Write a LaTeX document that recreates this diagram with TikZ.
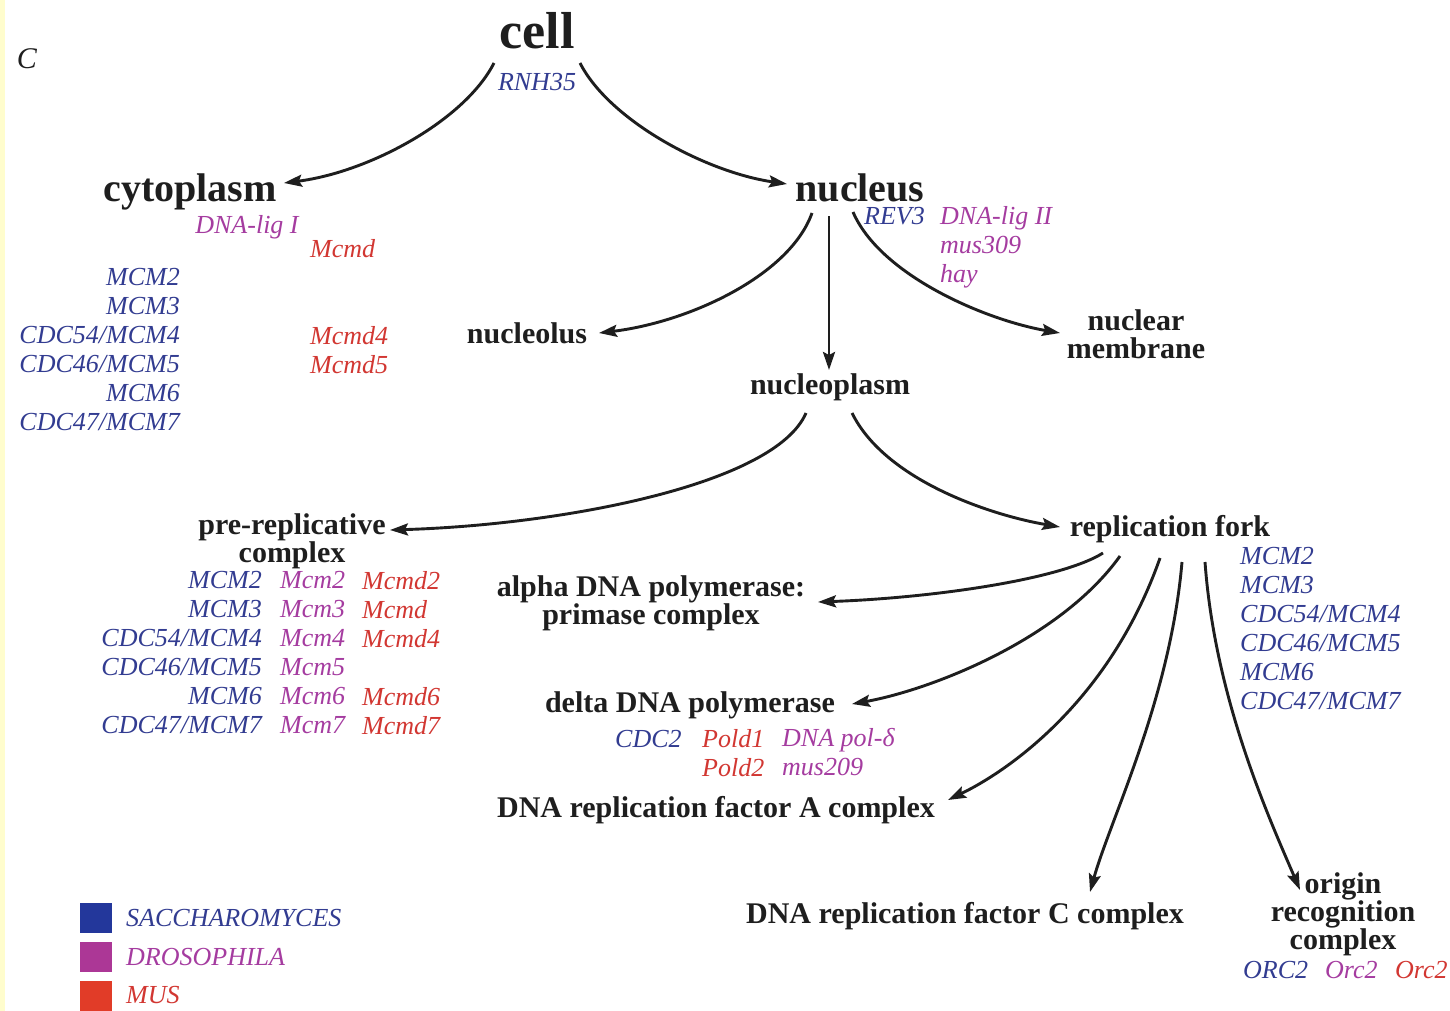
\documentclass[tikz,border=0pt]{standalone}
\usepackage{fontspec}
\setmainfont{Liberation Serif}
\usetikzlibrary{arrows.meta,calc}
\definecolor{ink}{RGB}{30,30,30}
\definecolor{sacc}{RGB}{50,60,145}
\definecolor{dros}{RGB}{165,60,160}
\definecolor{mus}{RGB}{210,55,50}
\definecolor{saccsq}{RGB}{35,55,155}
\definecolor{drossq}{RGB}{172,55,150}
\definecolor{mussq}{RGB}{225,60,40}
\definecolor{edge}{RGB}{255,253,205}
\begin{document}
\begin{tikzpicture}[x=1pt,y=-1pt,
  every node/.style={inner sep=0pt, text=ink},
  lvlzero/.style={font=\fontsize{52}{60}\selectfont\bfseries},
  lvlone/.style={font=\fontsize{40}{46}\selectfont\bfseries},
  lvltwo/.style={font=\fontsize{30}{28}\selectfont\bfseries, align=center},
  gene/.style={font=\fontsize{26}{29}\selectfont\itshape},
  yeast/.style={gene, text=sacc},
  fly/.style={gene, text=dros},
  mouse/.style={gene, text=mus},
  arr/.style={draw=ink, line width=2.9pt, -{Stealth[length=18pt,width=12pt,inset=3pt]}}
]
\fill[white] (0,0) rectangle (1450,1011);
\useasboundingbox (0,0) rectangle (1450,1011);
\fill[edge] (0,0) rectangle (5,1011);

% panel letter
\node[font=\fontsize{30}{32}\selectfont\itshape] (panel) at (27,59) {C};

% compartments
\node[lvlzero] (cell) at (537,31) {cell};
\node[lvlone] (cyto) at (190,192) {cytoplasm};
\node[lvlone] (nucl) at (860,188) {nucleus};
\node[lvltwo] (nucleolus) at (527,333) {nucleolus};
\node[lvltwo] (nplasm) at (830,387) {nucleoplasm};
\node[lvltwo] (memb) at (1136,334) {nuclear\\membrane};
\node[lvltwo] (prerep) at (292,541) {pre-replicative\\complex};
\node[lvltwo] (fork) at (1170,529) {replication fork};
\node[lvltwo] (alpha) at (651,603) {alpha DNA polymerase:\\primase complex};
\node[lvltwo] (delta) at (690,705) {delta DNA polymerase};
\node[lvltwo] (rfa) at (716,810) {DNA replication factor A complex};
\node[lvltwo] (rfc) at (965,916) {DNA replication factor C complex};
\node[lvltwo] (orc) at (1343,914) {origin\\recognition\\complex};

% gene annotations
\node[yeast] (rnh) at (537,82) {RNH35};

\node[fly] (ligI) at (247,227) {DNA-lig I};
\node[mouse, anchor=west] (cytmcmd) at (310,249) {Mcmd};
\node[yeast, anchor=north east, align=right] (cytyeast) at (180,268)
  {MCM2\\MCM3\\CDC54/MCM4\\CDC46/MCM5\\MCM6\\CDC47/MCM7};
\node[mouse, anchor=north west, align=left] (cytmouse) at (310,326) {Mcmd4\\Mcmd5};

\node[yeast, anchor=west] (rev) at (864,216) {REV3};
\node[fly, anchor=north west, align=left] (nucfly) at (940,206) {DNA-lig II\\mus309\\hay};

\node[yeast, anchor=north east, align=right] (pryeast) at (262,571)
  {MCM2\\MCM3\\CDC54/MCM4\\CDC46/MCM5\\MCM6\\CDC47/MCM7};
\node[fly, anchor=north west, align=left] (prfly) at (280,571)
  {Mcm2\\Mcm3\\Mcm4\\Mcm5\\Mcm6\\Mcm7};
\node[mouse, anchor=north west, align=left] (prmouse) at (362,571)
  {Mcmd2\\Mcmd\\Mcmd4\\\mbox{}\\Mcmd6\\Mcmd7};

\node[yeast, anchor=north west, align=left] (fkyeast) at (1240,547)
  {MCM2\\MCM3\\CDC54/MCM4\\CDC46/MCM5\\MCM6\\CDC47/MCM7};

\node[yeast, anchor=west] (cdc) at (615,739) {CDC2};
\node[mouse, anchor=north west, align=left] (pold) at (702,729) {Pold1\\Pold2};
\node[fly, anchor=north west, align=left] (polfly) at (782,728) {DNA pol-δ\\mus209};

\node[yeast, anchor=west] (orcy) at (1243,970) {ORC2};
\node[fly, anchor=west] (orcf) at (1325,970) {Orc2};
\node[mouse, anchor=west] (orcm) at (1395,970) {Orc2};

% legend
\fill[saccsq] (80,903) rectangle (112,933);
\fill[drossq] (80,942) rectangle (112,972);
\fill[mussq] (80,981) rectangle (112,1011);
\node[yeast, anchor=west] (keyyeast) at (126,918) {SACCHAROMYCES};
\node[fly, anchor=west] (keyfly) at (126,957) {DROSOPHILA};
\node[mouse, anchor=west] (keymouse) at (126,995) {MUS};

% connectors
\draw[arr] ($(cell)+(-43,32)$) .. controls (465,120) and (370,172) .. ($(cyto)+(94,-9)$);
\draw[arr] ($(cell)+(43,32)$) .. controls (609,120) and (705,172) .. ($(nucl)+(-73,-4)$);
\draw[arr] ($(nucl)+(-48,25)$) .. controls (790,275) and (690,322) .. ($(nucleolus)+(72,0)$);
\draw[arr] ($(nucl)+(-31,28)$) -- ($(nplasm)+(-1,-17)$);
\draw[arr] ($(nucl)+(-7,24)$) .. controls (880,275) and (985,320) .. ($(memb)+(-76,-1)$);
\draw[arr] ($(nplasm)+(-24,26)$) .. controls (775,485) and (560,525) .. ($(prerep)+(98,-11)$);
\draw[arr] ($(nplasm)+(22,26)$) .. controls (885,480) and (990,515) .. ($(fork)+(-110,-2)$);
\draw[arr] ($(fork)+(-67,24)$) .. controls (1060,580) and (930,598) .. ($(alpha)+(167,-1)$);
\draw[arr] ($(fork)+(-50,27)$) .. controls (1060,640) and (930,690) .. ($(delta)+(162,-1)$);
\draw[arr] ($(fork)+(-10,29)$) .. controls (1110,700) and (1010,770) .. ($(rfa)+(232,-10)$);
\draw[arr] ($(fork)+(12,33)$) .. controls (1170,700) and (1110,820) .. ($(rfc)+(125,-24)$);
\draw[arr] ($(fork)+(35,33)$) .. controls (1215,700) and (1270,820) .. ($(orc)+(-43,-24)$);
\end{tikzpicture}
\end{document}
